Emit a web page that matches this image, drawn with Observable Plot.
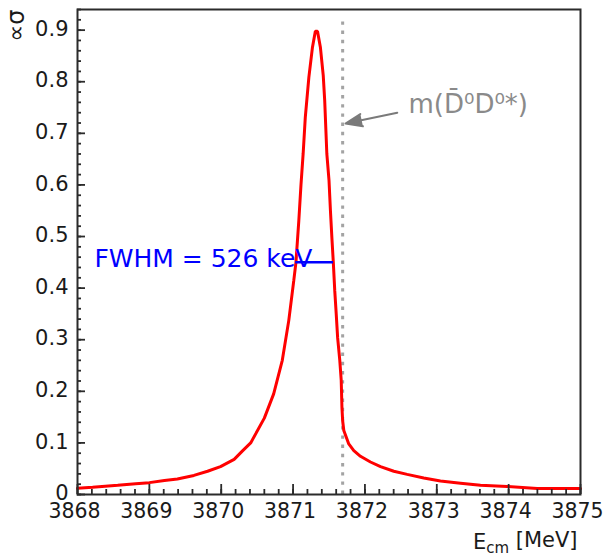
<!DOCTYPE html>
<html>
<head>
<meta charset="utf-8">
<script src="https://cdn.jsdelivr.net/npm/d3@7"></script>
<script src="https://cdn.jsdelivr.net/npm/@observablehq/plot@0.6"></script>
<style>
  html, body { margin: 0; padding: 0; background: #fff; overflow: hidden; }
</style>
</head>
<body>
<div id="chart"></div>
<script>
// ---- data ----
const energy = [
  3868.00, 3868.21, 3868.56, 3868.81, 3869.00, 3869.21, 3869.39, 3869.62, 3869.81, 3869.99,
  3870.18, 3870.30, 3870.41, 3870.60, 3870.73, 3870.85, 3870.94, 3871.01, 3871.04, 3871.08,
  3871.11, 3871.14, 3871.17, 3871.22, 3871.27, 3871.31, 3871.34, 3871.38, 3871.42, 3871.44,
  3871.47, 3871.50, 3871.52, 3871.54, 3871.56, 3871.58, 3871.60, 3871.62, 3871.65, 3871.67,
  3871.68, 3871.69, 3871.706, 3871.775, 3871.845, 3871.938, 3872.077, 3872.217, 3872.402, 3872.588,
  3872.819, 3873.051, 3873.330, 3873.608, 3873.980, 3874.397, 3875.00
];
const sigma = [
  0.012, 0.014, 0.018, 0.021, 0.023, 0.027, 0.030, 0.037, 0.045, 0.054,
  0.068, 0.085, 0.100, 0.148, 0.195, 0.260, 0.337, 0.415, 0.450, 0.531,
  0.600, 0.660, 0.731, 0.809, 0.867, 0.898, 0.898, 0.867, 0.812, 0.764,
  0.660, 0.609, 0.550, 0.498, 0.450, 0.395, 0.351, 0.304, 0.260, 0.221,
  0.169, 0.143, 0.124, 0.098, 0.085, 0.074, 0.063, 0.054, 0.045, 0.039,
  0.032, 0.026, 0.022, 0.018, 0.0155, 0.0116, 0.0116
];
const xTicks = [3868, 3869, 3870, 3871, 3872, 3873, 3874, 3875];
const xTickLabels = ["3868", "3869", "3870", "3871", "3872", "3873", "3874", "3875"];
const yTicks = [0, 0.1, 0.2, 0.3, 0.4, 0.5, 0.6, 0.7, 0.8, 0.9];
const yTickLabels = ["0", "0.1", "0.2", "0.3", "0.4", "0.5", "0.6", "0.7", "0.8", "0.9"];
const xMinor = d3.range(3868, 3875.001, 0.2);
const yMinor = d3.range(0, 0.941, 0.02);

const thresholdMass = 3871.69;         // m(D0bar D0*)
const thresholdTop = 0.92;
const halfMax = 0.45;
const fwhmLow = 3871.03;
const fwhmHigh = 3871.556;              // width 526 keV
const fwhmLabel = "FWHM = 526 keV";
const thresholdLabel = "m(D\u0304\u2070D\u2070*)";
const yTitle = "\u221D\u03C3";
const xTitleMain = "E";
const xTitleSub = "cm";
const xTitleRest = " [MeV]";

// annotation anchors (data units)
const fwhmTextPos = [{x: 3868.235, y: halfMax}];
const thresholdTextPos = [{x: 3872.606, y: 0.756}];
const arrowPos = [{x1: 3872.45, y1: 0.740, x2: 3871.73, y2: 0.719}];

const curve = energy.map((e, i) => ({e, s: sigma[i]}));

// layout
const W = 606, H = 557, mL = 77, mR = 26, mT = 9, mB = 63;
const xDomain = [3868, 3875], yDomain = [0, 0.94];
const frameW = W - mL - mR, frameH = H - mT - mB;
// convert tick lengths in pixels to data units of the other axis
const pxToY = px => px * (yDomain[1] - yDomain[0]) / frameH;
const pxToX = px => px * (xDomain[1] - xDomain[0]) / frameW;
const tickColor = "#2b2b2b";

const plot = Plot.plot({
  width: W,
  height: H,
  marginLeft: mL,
  marginRight: mR,
  marginTop: mT,
  marginBottom: mB,
  style: {fontFamily: "DejaVu Sans", background: "#fff", overflow: "visible"},
  x: {domain: xDomain, axis: null},
  y: {domain: yDomain, axis: null},
  marks: [
    // threshold dotted line
    Plot.ruleX([thresholdMass], {y1: 0, y2: thresholdTop, stroke: "#a3a3a3", strokeWidth: 3, strokeDasharray: "3.4,5.8"}),
    // lineshape
    Plot.line(curve, {x: "e", y: "s", stroke: "#ff0000", strokeWidth: 3, strokeLinejoin: "miter"}),
    // FWHM bar
    Plot.link([{x1: fwhmLow, x2: fwhmHigh, y: halfMax}], {x1: "x1", x2: "x2", y1: "y", y2: "y", stroke: "#0000ff", strokeWidth: 2.5}),
    Plot.text(fwhmTextPos, {x: "x", y: "y", text: () => fwhmLabel, textAnchor: "start", lineAnchor: "middle", dy: -3.5, fill: "#0000ff", fontSize: 25}),
    // threshold annotation
    Plot.arrow(arrowPos, {x1: "x1", y1: "y1", x2: "x2", y2: "y2", stroke: "#7a7a7a", fill: "#7a7a7a", strokeWidth: 2, headLength: 15, headAngle: 42}),
    Plot.text(thresholdTextPos, {x: "x", y: "y", text: () => thresholdLabel, textAnchor: "start", lineAnchor: "middle", fill: "#8a8a8a", fontSize: 26}),
    // ticks (inside the frame)
    Plot.ruleX(xMinor, {x: d => d, y1: yDomain[0], y2: yDomain[0] + pxToY(5), stroke: tickColor, strokeWidth: 1.8}),
    Plot.ruleX(xTicks, {x: d => d, y1: yDomain[0], y2: yDomain[0] + pxToY(10), stroke: tickColor, strokeWidth: 1.8}),
    Plot.ruleY(yMinor, {y: d => d, x1: xDomain[0], x2: xDomain[0] + pxToX(4), stroke: tickColor, strokeWidth: 1.8}),
    Plot.ruleY(yTicks, {y: d => d, x1: xDomain[0], x2: xDomain[0] + pxToX(8), stroke: tickColor, strokeWidth: 1.8}),
    // frame
    Plot.frame({stroke: tickColor, strokeWidth: 2}),
    // tick labels
    Plot.axisX({ticks: xTicks, tickSize: 0, tickPadding: 9, dx: -3, tickFormat: d => xTickLabels[xTicks.indexOf(d)], label: null, fontSize: 20.5, color: "#1a1a1a"}),
    Plot.axisY({ticks: yTicks, tickSize: 0, tickPadding: 9, dy: -1, tickFormat: d => yTickLabels[yTicks.indexOf(d)], label: null, fontSize: 21, color: "#1a1a1a"}),
    // axis titles
    Plot.text([yTitle], {frameAnchor: "top-left", rotate: -90, textAnchor: "end", dx: -71, dy: 0, fontSize: 24, fill: "#1a1a1a"}),
    Plot.text(["XTITLE"], {frameAnchor: "bottom-right", textAnchor: "end", dx: -3, dy: 54, fontSize: 21, fill: "#1a1a1a"})
  ]
});

// build subscripted x-axis title
d3.select(plot).selectAll("text").filter(function() { return this.textContent === "XTITLE"; })
  .each(function() {
    const t = d3.select(this);
    t.text(null);
    t.append("tspan").text(xTitleMain);
    t.append("tspan").attr("dy", "0.3em").attr("font-size", "15").text(xTitleSub);
    t.append("tspan").attr("dy", "-0.3em").text(xTitleRest);
  });

document.getElementById("chart").append(plot);
</script>
</body>
</html>
